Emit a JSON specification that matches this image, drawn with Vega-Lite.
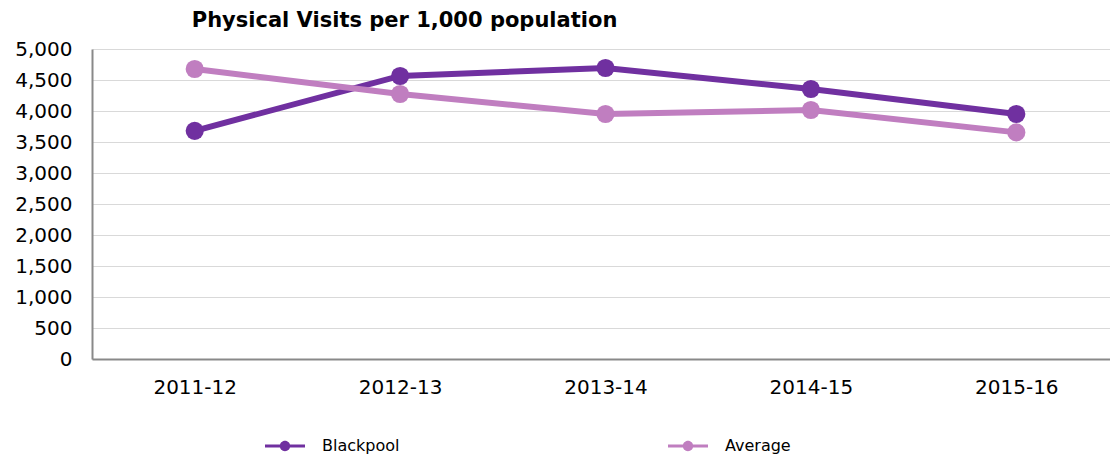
{
  "$schema": "https://vega.github.io/schema/vega-lite/v6.json",
  "autosize": "none",
  "width": 1027,
  "height": 310,
  "padding": {"left": 92, "top": 49, "right": 0, "bottom": 98},
  "background": "white",
  "config": {
    "font": "DejaVu Sans",
    "view": {"stroke": null}
  },
  "title": {
    "text": "Physical Visits per 1,000 population",
    "font": "DejaVu Sans",
    "fontSize": 21,
    "fontWeight": "bold",
    "color": "black",
    "anchor": "start",
    "dx": 177,
    "offset": 8
  },
  "data": {
    "values": [
      {"year": "2011-12", "series": "Blackpool", "value": 3680},
      {"year": "2012-13", "series": "Blackpool", "value": 4565},
      {"year": "2013-14", "series": "Blackpool", "value": 4694},
      {"year": "2014-15", "series": "Blackpool", "value": 4355},
      {"year": "2015-16", "series": "Blackpool", "value": 3952},
      {"year": "2011-12", "series": "Average", "value": 4677},
      {"year": "2012-13", "series": "Average", "value": 4274},
      {"year": "2013-14", "series": "Average", "value": 3952},
      {"year": "2014-15", "series": "Average", "value": 4016},
      {"year": "2015-16", "series": "Average", "value": 3655}
    ]
  },
  "encoding": {
    "x": {
      "field": "year",
      "type": "ordinal",
      "scale": {"type": "point", "padding": 0.5},
      "axis": {
        "title": null,
        "labelAngle": 0,
        "labelFontSize": 20,
        "labelColor": "black",
        "labelPadding": 18,
        "ticks": false,
        "domainColor": "#898989",
        "domainWidth": 2,
        "grid": false
      }
    },
    "y": {
      "field": "value",
      "type": "quantitative",
      "scale": {"domain": [0, 5000], "nice": false},
      "axis": {
        "title": null,
        "values": [0, 500, 1000, 1500, 2000, 2500, 3000, 3500, 4000, 4500, 5000],
        "format": ",d",
        "labelFontSize": 20,
        "labelColor": "black",
        "labelPadding": 20,
        "ticks": false,
        "domainColor": "#898989",
        "domainWidth": 2,
        "gridColor": "#d9d9d9",
        "gridWidth": 1
      }
    },
    "color": {
      "field": "series",
      "type": "nominal",
      "scale": {"domain": ["Blackpool", "Average"], "range": ["#7030A0", "#C07EC0"]},
      "legend": {
        "title": null,
        "orient": "none",
        "legendX": 173,
        "legendY": 377,
        "direction": "horizontal",
        "columnPadding": 268,
        "labelFontSize": 16,
        "labelColor": "black",
        "symbolType": "M -1 -0.07 L 1 -0.07 L 1 0.07 L -1 0.07 Z M -0.26 0 A 0.26 0.26 0 1 1 0.26 0 A 0.26 0.26 0 1 1 -0.26 0 Z",
        "symbolSize": 1600,
        "symbolStrokeWidth": 0,
        "labelOffset": 17
      }
    }
  },
  "layer": [
    {
      "mark": {"type": "line", "strokeWidth": 6},
      "encoding": {"order": {"field": "year"}}
    },
    {
      "mark": {"type": "point", "filled": true, "opacity": 1, "size": 330}
    }
  ]
}
